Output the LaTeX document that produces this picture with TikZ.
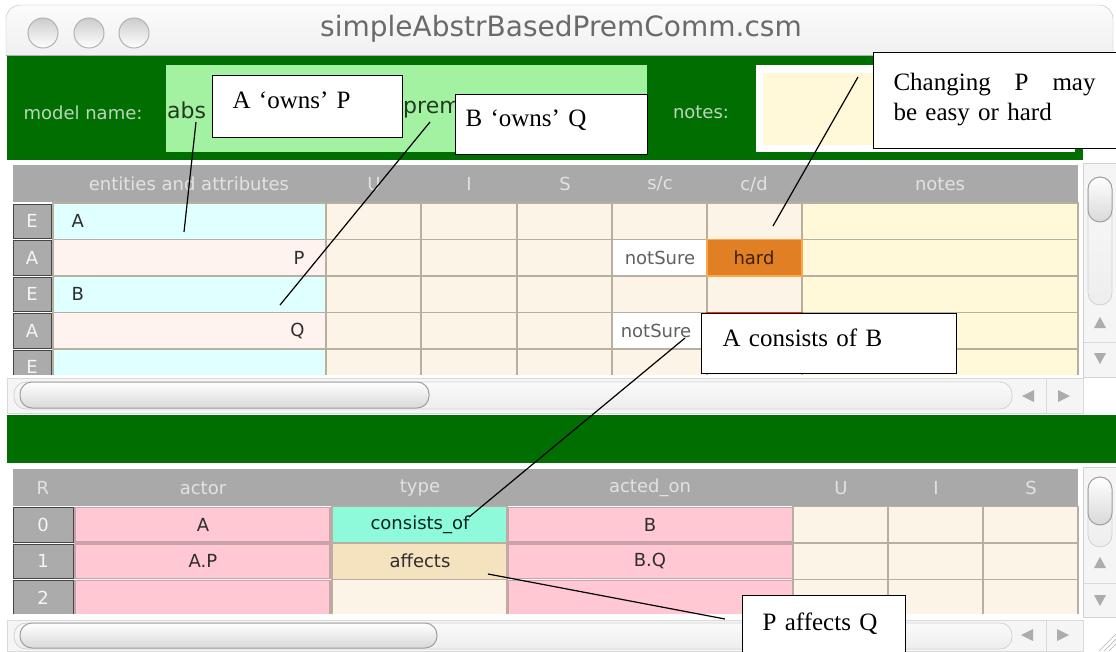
\documentclass[tikz,border=0pt]{standalone}
\usepackage{fontspec}
\setmainfont{Liberation Serif}
\newfontfamily\uifont{DejaVu Sans}
\usepackage{tikz}
\usetikzlibrary{calc}
\definecolor{wingreen}{HTML}{006E00}
\definecolor{fieldgreen}{HTML}{A2F2A2}
\definecolor{labelgreen}{HTML}{BCD6BC}
\definecolor{nameink}{HTML}{223A22}
\definecolor{hdrgray}{HTML}{A9A9A9}
\definecolor{hdrtext}{HTML}{E2E2E2}
\definecolor{labgray}{HTML}{ABABAB}
\definecolor{entcyan}{HTML}{E0FFFF}
\definecolor{attpink}{HTML}{FFF3EF}
\definecolor{cream}{HTML}{FDF4E8}
\definecolor{notesyellow}{HTML}{FFF8D9}
\definecolor{hardorange}{HTML}{E07F24}
\definecolor{relpink}{HTML}{FFC8D3}
\definecolor{relaqua}{HTML}{8FFADA}
\definecolor{relwheat}{HTML}{F5E3BF}
\definecolor{gridline}{HTML}{B7AF9F}
\definecolor{pinkline}{HTML}{C8A4AA}
\definecolor{titlegray}{HTML}{6A6A6A}
\definecolor{cellink}{HTML}{2E2E2E}

\begin{document}
\begin{tikzpicture}[x=1pt,y=-1pt,
  callout/.style={draw=black,line width=1.1pt,fill=white,inner ysep=0pt,anchor=north west,align=left,font=\fontsize{25}{30}\selectfont},
  leader/.style={line width=1.2pt},
  ui/.style={font=\uifont\fontsize{18}{20}\selectfont},
  hdr/.style={ui,text=hdrtext},
  lab/.style={ui,text=white!92!gray},
  celltext/.style={ui,text=cellink},
  cellbox/.style={draw=gridline,line width=1.5pt},
  relbox/.style={draw=pinkline,line width=1.2pt},
  labbox/.style={draw=gray!55!black,line width=1pt,fill=labgray},
  thumb/.style={draw=gray!75,line width=1pt,rounded corners=12pt,top color=white,bottom color=gray!30},
  track/.style={draw=gray!35,line width=0.8pt,rounded corners=12pt,top color=gray!4,bottom color=gray!14},
  arrowtri/.style={fill=gray!65}]
  \useasboundingbox (0,0) rectangle (1116,651);
  \clip (0,0) rectangle (1116,651);
  \fill[white] (0,0) rectangle (1116,651);

  \path[draw=gray!55,top color=gray!3,bottom color=gray!16,rounded corners=14pt] (6,5) rectangle (1113,80);
  \fill[white] (5,56) rectangle (1116,90);
  \draw[gray!60,line width=1pt] (6,55.5) -- (1113,55.5);
  \foreach \cx in {43,89,134}
    \path[draw=gray!60,line width=1pt,top color=gray!40,bottom color=white] (\cx,33) circle (15);
  \node[font=\uifont\fontsize{28}{30}\selectfont,text=titlegray] (title) at (561,29) {simpleAbstrBasedPremComm.csm};

  \fill[wingreen] (7,56) rectangle (1083,160);
  \node[ui,text=labelgreen] (mnLabel) at (83,113) {model name:};
  \fill[fieldgreen] (166,65) rectangle (647,152);
  \node[font=\uifont\fontsize{22}{24}\selectfont,text=nameink,anchor=west,inner sep=0pt] (mnAbs) at (167,110) {abs};
  \node[font=\uifont\fontsize{22}{24}\selectfont,text=nameink,anchor=west,inner sep=0pt] (mnPrem) at (403,110) {prem};
  \node[ui,text=labelgreen] (notesLabel) at (701,112) {notes:};
  \fill[white] (756,65) rectangle (1075,152);
  \fill[notesyellow] (763,73) rectangle (1068,145);

  \fill[hdrgray] (13,165) rectangle (1078,202);
  \node[hdr] (hEnt) at (189,184) {entities and attributes};
  \node[hdr] (hU) at (374,184) {U};
  \node[hdr] (hI) at (469,184) {I};
  \node[hdr] (hS) at (565,184) {S};
  \node[hdr] (hSc) at (660,184) {s/c};
  \node[hdr] (hCd) at (754,184) {c/d};
  \node[hdr] (hNotes) at (940,184) {notes};

  \begin{scope}
    \clip (0,202) rectangle (1116,374);
    \foreach \r/\yt/\k/\ec in {1/203/E/entcyan,2/239.5/A/attpink,3/276/E/entcyan,4/312.5/A/attpink,5/349/E/entcyan}{
      \path[labbox] (13,\yt+1) rectangle ++(38,34.5);
      \node[lab] (lab\r) at (32,\yt+18.25) {\k};
      \path[cellbox,fill=\ec] (53,\yt) rectangle ++(273,36.5);
      \foreach \cx/\cw in {326/95,421/96,517/95,612/95,707/95}
        \path[cellbox,fill=cream] (\cx,\yt) rectangle ++(\cw,36.5);
      \path[cellbox,fill=notesyellow] (802,\yt) rectangle ++(276,36.5);
    }
    \path[cellbox,fill=white] (612,239.5) rectangle ++(95,36.5);
    \path[cellbox,fill=hardorange,draw=orange!70] (707,239.5) rectangle ++(95,36.5);
    \path[cellbox,fill=white] (612,312.5) rectangle ++(95,36.5);
    \path[cellbox,fill=hardorange,draw=red!70!orange] (707,312.5) rectangle ++(95,36.5);
  \end{scope}
  \node[celltext,anchor=west] (eA) at (68,221) {A};
  \node[celltext,anchor=east] (aP) at (308,258) {P};
  \node[celltext,anchor=west] (eB) at (68,294) {B};
  \node[celltext,anchor=east] (aQ) at (308,331) {Q};
  \node[celltext,text=gray!75!black] (sc2) at (660,258) {notSure};
  \node[celltext,text=black!75!orange] (cd2) at (754,258) {hard};
  \node[celltext,text=gray!75!black] (sc4) at (656,331) {notSure};

  \path[fill=gray!8,draw=gray!35] (1083,163) rectangle (1116,377);
  \path[track] (1088,177) rectangle (1112,305);
  \path[thumb] (1088,177) rectangle (1112,222);
  \draw[gray!30] (1083,342) -- (1116,342);
  \fill[arrowtri] (1094,328) -- (1106,328) -- (1100,317) -- cycle;
  \fill[arrowtri] (1094,353) -- (1106,353) -- (1100,364) -- cycle;

  \path[fill=gray!8,draw=gray!30] (7,378) rectangle (1083,413);
  \path[track] (14,382) rectangle (1012,409);
  \path[thumb] (20,382) rectangle (429,408);
  \draw[gray!30] (1046,378) -- (1046,413);
  \fill[arrowtri] (1034,390) -- (1034,402) -- (1022,396) -- cycle;
  \fill[arrowtri] (1058,390) -- (1058,402) -- (1070,396) -- cycle;

  \fill[wingreen] (7,415) rectangle (1116,463);

  \fill[hdrgray] (13,469) rectangle (1078,506);
  \node[hdr] (hR) at (43,488) {R};
  \node[hdr] (hActor) at (203,488) {actor};
  \node[hdr] (hType) at (420,488) {type};
  \node[hdr] (hActed) at (650,488) {acted\_on};
  \node[hdr] (hU2) at (841,488) {U};
  \node[hdr] (hI2) at (936,488) {I};
  \node[hdr] (hS2) at (1031,488) {S};

  \begin{scope}
    \clip (0,506) rectangle (1116,613);
    \foreach \r/\yt/\tc in {0/506.5/relaqua,1/543/relwheat,2/579.5/cream}{
      \path[labbox] (13,\yt+1) rectangle ++(60,34.5);
      \node[lab] (rlab\r) at (43,\yt+18.25) {\r};
      \path[relbox,fill=relpink] (75,\yt+1) rectangle ++(255,34.5);
      \path[cellbox,fill=\tc] (332,\yt) rectangle ++(175,36.5);
      \path[relbox,fill=relpink] (508,\yt+1) rectangle ++(285,34.5);
      \foreach \cx/\cw in {793/95,888/95,983/95}
        \path[cellbox,fill=cream] (\cx,\yt) rectangle ++(\cw,36.5);
    }
  \end{scope}
  \node[celltext] (actA) at (203,525) {A};
  \node[celltext,text=black!70!teal] (typeCons) at (420,525) {consists\_of};
  \node[celltext] (onB) at (650,525) {B};
  \node[celltext] (actAP) at (203,561) {A.P};
  \node[celltext] (typeAff) at (420,561) {affects};
  \node[celltext] (onBQ) at (650,561) {B.Q};

  \path[fill=gray!8,draw=gray!35] (1083,467) rectangle (1116,617);
  \path[track] (1088,477) rectangle (1112,547);
  \path[thumb] (1088,477) rectangle (1112,525);
  \draw[gray!30] (1083,583) -- (1116,583);
  \fill[arrowtri] (1094,568) -- (1106,568) -- (1100,557) -- cycle;
  \fill[arrowtri] (1094,595) -- (1106,595) -- (1100,606) -- cycle;

  \path[fill=gray!8,draw=gray!30] (7,620) rectangle (1083,651);
  \path[track] (14,623) rectangle (1012,649);
  \path[thumb] (20,623) rectangle (437,648);
  \draw[gray!30] (1046,620) -- (1046,651);
  \fill[arrowtri] (1033,629) -- (1033,641) -- (1021,635) -- cycle;
  \fill[arrowtri] (1057,629) -- (1057,641) -- (1069,635) -- cycle;
  \foreach \d in {0,5,10}
    \draw[gray!60] (1099+\d,651) -- (1116,634+\d);

  \coordinate (ownsPend) at (196,122);
  \coordinate (ownsPtip) at (184,232);
  \coordinate (ownsQend) at (430,122);
  \coordinate (ownsQtip) at (280,305);
  \coordinate (changeEnd) at (858,77);
  \coordinate (changeTip) at (773,226);
  \coordinate (consistEnd) at (685,338);
  \coordinate (consistTip) at (469,517);
  \coordinate (affectTip) at (488,574);
  \coordinate (affectEnd) at (725,619);
  \draw[leader] (ownsPend) -- (ownsPtip);
  \draw[leader] (ownsQend) -- (ownsQtip);
  \draw[leader] (changeEnd) -- (changeTip);
  \draw[leader] (consistEnd) -- (consistTip);
  \draw[leader] (affectTip) -- (affectEnd);

  \node[callout,inner xsep=20pt,text width=150pt,text height=33pt,text depth=29pt] (ownsP) at (212,75) {A ‘owns’ P};
  \node[callout,inner xsep=10pt,text width=172pt,text height=32pt,text depth=28pt] (ownsQ) at (455,94) {B ‘owns’ Q};
  \node[callout,inner xsep=20pt,text width=240pt,text height=38pt,text depth=58pt] (changeP) at (873,52) {\parbox[t]{202pt}{Changing\hfill P\hfill may\\be easy or hard}};
  \node[callout,inner xsep=21pt,text width=213pt,text height=33pt,text depth=27pt] (consists) at (701,313) {A consists of B};
  \node[callout,inner xsep=20pt,text width=123pt,text height=35pt,text depth=30pt] (affects) at (742,595) {P affects Q};
\end{tikzpicture}
\end{document}
